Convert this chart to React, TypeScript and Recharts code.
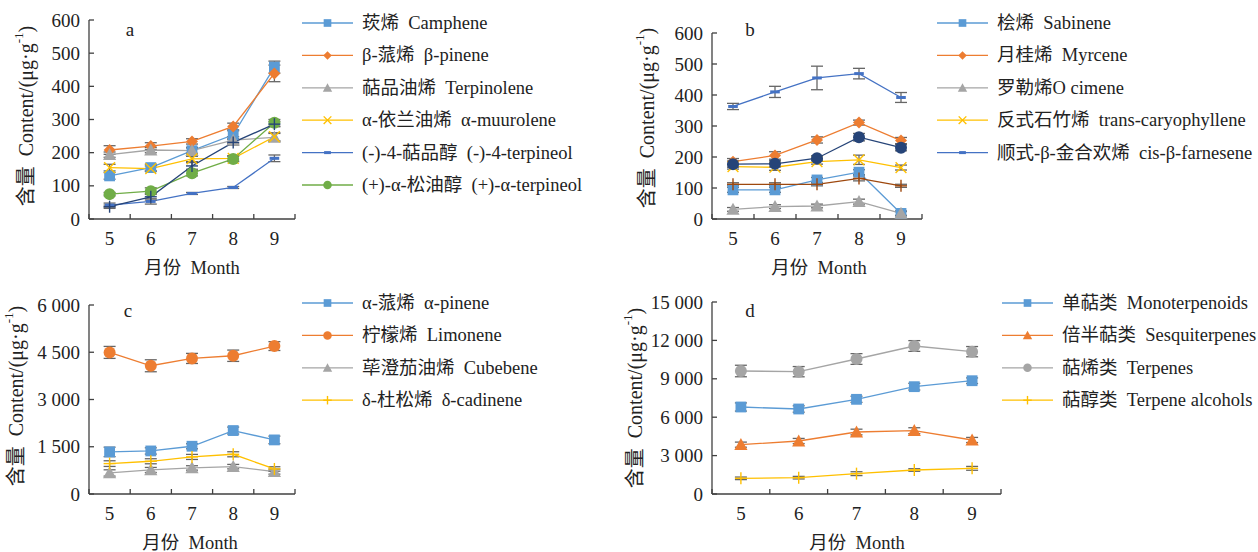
import { ErrorBar, Label, Line, LineChart, XAxis, YAxis } from "recharts";

type Marker = "square" | "diamond" | "triangle" | "cross" | "dash" | "circle" | "plus";

interface Series {
  key: string;
  label?: string;
  color: string;
  marker: Marker;
  values: number[];
  errors: number[];
}

const FONT = "'Liberation Serif', 'Noto Sans CJK SC', serif";
const AXIS = "#404040";
const ERR = "#666666";
const TEXT = "#222";
const TICK_FS = 19;
const Y_AXIS_W = 60;
const X_AXIS_H = 40;

const months = [5, 6, 7, 8, 9];
const monthTicks = [4.5, 5, 5.5, 6, 6.5, 7, 7.5, 8, 8.5, 9, 9.5];

// panel a
const camphene = [130, 155, 206, 254, 458];
const campheneErr = [10, 10, 10, 12, 18];
const betaPinene = [208, 220, 234, 279, 439];
const betaPineneErr = [13, 10, 8, 10, 25];
const terpinolene = [194, 208, 206, 238, 246];
const terpinoleneErr = [8, 8, 8, 10, 12];
const alphaMuurolene = [155, 152, 181, 183, 248];
const alphaMuuroleneErr = [10, 8, 8, 8, 12];
const terpineol4 = [42, 53, 77, 95, 183];
const terpineol4Err = [6, 8, 3, 3, 10];
const alphaTerpineol = [75, 84, 138, 181, 290];
const alphaTerpineolErr = [5, 10, 8, 8, 10];
const extraA = [37, 67, 160, 231, 286];
const extraAErr = [5, 10, 10, 8, 8];

// panel b
const sabinene = [94, 94, 126, 151, 18];
const sabineneErr = [8, 8, 8, 8, 8];
const myrcene = [185, 205, 255, 311, 253];
const myrceneErr = [10, 12, 10, 8, 10];
const oCimene = [31, 40, 42, 56, 18];
const oCimeneErr = [6, 6, 6, 8, 6];
const transCaryophyllene = [169, 167, 185, 191, 166];
const transCaryophylleneErr = [8, 10, 8, 15, 8];
const cisFarnesene = [363, 410, 455, 469, 392];
const cisFarneseneErr = [10, 18, 38, 17, 16];
const extraB1 = [177, 178, 196, 264, 230];
const extraB1Err = [10, 10, 8, 12, 10];
const extraB2 = [112, 112, 112, 131, 107];
const extraB2Err = [5, 5, 5, 8, 5];

// panel c
const alphaPinene = [1336, 1367, 1516, 2014, 1717];
const alphaPineneErr = [150, 100, 80, 110, 120];
const limonene = [4495, 4071, 4304, 4389, 4696];
const limoneneErr = [190, 190, 160, 180, 140];
const cubebene = [668, 763, 827, 869, 710];
const cubebeneErr = [100, 80, 70, 70, 80];
const deltaCadinene = [965, 1039, 1177, 1261, 795];
const deltaCadineneErr = [90, 80, 80, 80, 70];

// panel d
const monoterpenoids = [6797, 6641, 7396, 8385, 8850];
const monoterpenoidsErr = [320, 250, 240, 260, 220];
const sesquiterpenes = [3854, 4141, 4844, 4947, 4220];
const sesquiterpenesErr = [200, 200, 220, 230, 200];
const terpenes = [9609, 9557, 10547, 11563, 11120];
const terpenesErr = [450, 400, 420, 420, 400];
const terpeneAlcohols = [1224, 1276, 1589, 1875, 2005];
const terpeneAlcoholsErr = [100, 100, 150, 100, 150];

const seriesA: Series[] = [
  { key: "camphene", label: "莰烯  Camphene", color: "#5B9BD5", marker: "square", values: camphene, errors: campheneErr },
  { key: "betaPinene", label: "β-蒎烯  β-pinene", color: "#ED7D31", marker: "diamond", values: betaPinene, errors: betaPineneErr },
  { key: "terpinolene", label: "萜品油烯  Terpinolene", color: "#A5A5A5", marker: "triangle", values: terpinolene, errors: terpinoleneErr },
  { key: "muurolene", label: "α-依兰油烯  α-muurolene", color: "#FFC000", marker: "cross", values: alphaMuurolene, errors: alphaMuuroleneErr },
  { key: "terpineol4", label: "(-)-4-萜品醇  (-)-4-terpineol", color: "#4472C4", marker: "dash", values: terpineol4, errors: terpineol4Err },
  { key: "alphaTerpineol", label: "(+)-α-松油醇  (+)-α-terpineol", color: "#70AD47", marker: "circle", values: alphaTerpineol, errors: alphaTerpineolErr },
  { key: "extraA", color: "#264478", marker: "plus", values: extraA, errors: extraAErr },
];

const seriesB: Series[] = [
  { key: "sabinene", label: "桧烯  Sabinene", color: "#5B9BD5", marker: "square", values: sabinene, errors: sabineneErr },
  { key: "myrcene", label: "月桂烯  Myrcene", color: "#ED7D31", marker: "diamond", values: myrcene, errors: myrceneErr },
  { key: "oCimene", label: "罗勒烯O cimene", color: "#A5A5A5", marker: "triangle", values: oCimene, errors: oCimeneErr },
  { key: "caryophyllene", label: "反式石竹烯  trans-caryophyllene", color: "#FFC000", marker: "cross", values: transCaryophyllene, errors: transCaryophylleneErr },
  { key: "farnesene", label: "顺式-β-金合欢烯  cis-β-farnesene", color: "#4472C4", marker: "dash", values: cisFarnesene, errors: cisFarneseneErr },
  { key: "extraB1", color: "#264478", marker: "circle", values: extraB1, errors: extraB1Err },
  { key: "extraB2", color: "#9E480E", marker: "plus", values: extraB2, errors: extraB2Err },
];

const seriesC: Series[] = [
  { key: "alphaPinene", label: "α-蒎烯  α-pinene", color: "#5B9BD5", marker: "square", values: alphaPinene, errors: alphaPineneErr },
  { key: "limonene", label: "柠檬烯  Limonene", color: "#ED7D31", marker: "circle", values: limonene, errors: limoneneErr },
  { key: "cubebene", label: "荜澄茄油烯  Cubebene", color: "#A5A5A5", marker: "triangle", values: cubebene, errors: cubebeneErr },
  { key: "cadinene", label: "δ-杜松烯  δ-cadinene", color: "#FFC000", marker: "plus", values: deltaCadinene, errors: deltaCadineneErr },
];

const seriesD: Series[] = [
  { key: "mono", label: "单萜类  Monoterpenoids", color: "#5B9BD5", marker: "square", values: monoterpenoids, errors: monoterpenoidsErr },
  { key: "sesqui", label: "倍半萜类  Sesquiterpenes", color: "#ED7D31", marker: "triangle", values: sesquiterpenes, errors: sesquiterpenesErr },
  { key: "terpenes", label: "萜烯类  Terpenes", color: "#A5A5A5", marker: "circle", values: terpenes, errors: terpenesErr },
  { key: "alcohols", label: "萜醇类  Terpene alcohols", color: "#FFC000", marker: "plus", values: terpeneAlcohols, errors: terpeneAlcoholsErr },
];

function buildRows(series: Series[]) {
  return months.map((m, i) => {
    const row: Record<string, number> = { month: m };
    series.forEach((s) => {
      row[s.key] = s.values[i];
      row[s.key + "Err"] = s.errors[i];
    });
    return row;
  });
}

function drawMarker(type: Marker, cx: number, cy: number, color: string, k: number = 1) {
  switch (type) {
    case "square":
      return <rect x={cx - 4.5 * k} y={cy - 4.5 * k} width={9 * k} height={9 * k} fill={color} />;
    case "diamond":
      return (
        <polygon
          points={`${cx},${cy - 5 * k} ${cx + 5 * k},${cy} ${cx},${cy + 5 * k} ${cx - 5 * k},${cy}`}
          fill={color}
        />
      );
    case "triangle":
      return (
        <polygon
          points={`${cx},${cy - 5.5 * k} ${cx + 5.5 * k},${cy + 4.5 * k} ${cx - 5.5 * k},${cy + 4.5 * k}`}
          fill={color}
        />
      );
    case "circle":
      return <circle cx={cx} cy={cy} r={5 * k} fill={color} />;
    case "cross":
      return (
        <g stroke={color} strokeWidth={1.4}>
          <line x1={cx - 4.5 * k} y1={cy - 4.5 * k} x2={cx + 4.5 * k} y2={cy + 4.5 * k} />
          <line x1={cx - 4.5 * k} y1={cy + 4.5 * k} x2={cx + 4.5 * k} y2={cy - 4.5 * k} />
        </g>
      );
    case "plus":
      return (
        <g stroke={color} strokeWidth={1.4}>
          <line x1={cx - 5 * k} y1={cy} x2={cx + 5 * k} y2={cy} />
          <line x1={cx} y1={cy - 5 * k} x2={cx} y2={cy + 5 * k} />
        </g>
      );
    case "dash":
    default:
      return <rect x={cx - 4 * k} y={cy - 1.5} width={8 * k} height={3} fill={color} />;
  }
}

const XTick = (props: any) => {
  const { x, y, payload } = props;
  if (payload.value % 1 !== 0) {
    return <line x1={x} y1={y} x2={x} y2={y - 5} stroke={AXIS} strokeWidth={1.3} />;
  }
  return (
    <text x={x} y={y + 19} textAnchor="middle" dominantBaseline="central" fontFamily={FONT} fontSize={TICK_FS} fill={TEXT}>
      {payload.value}
    </text>
  );
};

const YTick = (props: any) => {
  const { x, y, payload, fmt } = props;
  return (
    <g>
      <line x1={x} y1={y} x2={x + 5} y2={y} stroke={AXIS} strokeWidth={1.3} />
      <text x={x - 9} y={y} textAnchor="end" dominantBaseline="central" fontFamily={FONT} fontSize={TICK_FS} fill={TEXT}>
        {fmt(payload.value)}
      </text>
    </g>
  );
};

const spaced = (v: number) => (v >= 1000 ? `${Math.floor(v / 1000)} ${String(v % 1000).padStart(3, "0")}` : String(v));

interface PanelProps {
  series: Series[];
  left: number;
  top: number;
  width: number;
  height: number;
  plot: { top: number; right: number; bottom: number; left: number };
  yMax: number;
  yTicks: number[];
  letter: string;
  yTitle: [number, number];
  xTitle: [number, number];
  letterPos: [number, number];
}

function Panel(p: PanelProps) {
  const rows = buildRows(p.series);
  const margin = {
    top: p.plot.top,
    right: p.plot.right,
    bottom: p.plot.bottom - X_AXIS_H,
    left: p.plot.left - Y_AXIS_W,
  };
  return (
    <div style={{ position: "absolute", left: p.left, top: p.top }}>
      <LineChart width={p.width} height={p.height} data={rows} margin={margin}>
        <XAxis
          dataKey="month"
          type="number"
          domain={[4.5, 9.5]}
          ticks={monthTicks}
          interval={0}
          height={X_AXIS_H}
          tickSize={0}
          tickMargin={0}
          tickLine={false}
          axisLine={{ stroke: AXIS, strokeWidth: 1.3 }}
          tick={(t: any) => <XTick {...t} />}
        >
          <Label
            content={() => (
              <text
                x={p.xTitle[0]}
                y={p.xTitle[1]}
                textAnchor="middle"
                dominantBaseline="central"
                fontFamily={FONT}
                fontSize={18.5}
                fill={TEXT}
                style={{ whiteSpace: "pre" }}
              >
                月份  Month
              </text>
            )}
          />
        </XAxis>
        <YAxis
          type="number"
          domain={[0, p.yMax]}
          ticks={p.yTicks}
          interval={0}
          width={Y_AXIS_W}
          tickSize={0}
          tickMargin={0}
          tickLine={false}
          axisLine={{ stroke: AXIS, strokeWidth: 1.3 }}
          tick={(t: any) => <YTick {...t} fmt={spaced} />}
        >
          <Label
            content={() => (
              <g>
                <text
                  x={p.yTitle[0]}
                  y={p.yTitle[1]}
                  transform={`rotate(-90, ${p.yTitle[0]}, ${p.yTitle[1]})`}
                  textAnchor="middle"
                  dominantBaseline="central"
                  fontFamily={FONT}
                  fontSize={20}
                  fill={TEXT}
                  style={{ whiteSpace: "pre" }}
                >
                  含量  Content/(μg·g
                  <tspan fontSize={13} dy={-8}>
                    -1
                  </tspan>
                  <tspan dy={8}>)</tspan>
                </text>
                <text
                  x={p.letterPos[0]}
                  y={p.letterPos[1]}
                  textAnchor="middle"
                  dominantBaseline="central"
                  fontFamily={FONT}
                  fontSize={19}
                  fill={TEXT}
                >
                  {p.letter}
                </text>
              </g>
            )}
          />
        </YAxis>
        {p.series.map((s) => (
          <Line
            key={s.key}
            dataKey={s.key}
            stroke={s.color}
            strokeWidth={1.3}
            isAnimationActive={false}
            dot={(d: any) => <g key={`${s.key}-${d.index}`}>{drawMarker(s.marker, d.cx, d.cy, s.color, 1.2)}</g>}
            activeDot={false}
          >
            <ErrorBar dataKey={s.key + "Err"} width={6} stroke={ERR} strokeWidth={1.3} />
          </Line>
        ))}
      </LineChart>
    </div>
  );
}

function Legend({ series, x, y }: { series: Series[]; x: number; y: number }) {
  return (
    <g>
      {series
        .filter((s) => s.label)
        .map((s, i) => {
          const cy = y + i * 32.4;
          return (
            <g key={s.key}>
              <line x1={x} y1={cy} x2={x + 51} y2={cy} stroke={s.color} strokeWidth={1.3} />
              {drawMarker(s.marker, x + 25.5, cy, s.color, 0.85)}
              <text
                x={x + 60}
                y={cy}
                dominantBaseline="central"
                fontFamily={FONT}
                fontSize={18.5}
                fill={TEXT}
                style={{ whiteSpace: "pre" }}
              >
                {s.label}
              </text>
            </g>
          );
        })}
    </g>
  );
}

export default function App() {
  return (
    <div style={{ position: "absolute", left: 0, top: 0, width: 1258, height: 552, background: "#fff", overflow: "hidden" }}>
      <Panel
        series={seriesA}
        left={0}
        top={0}
        width={300}
        height={280}
        plot={{ top: 20, right: 5, bottom: 61, left: 89 }}
        yMax={600}
        yTicks={[0, 100, 200, 300, 400, 500, 600]}
        letter="a"
        yTitle={[26, 116]}
        xTitle={[192, 268]}
        letterPos={[130, 29]}
      />
      <Panel
        series={seriesB}
        left={620}
        top={0}
        width={310}
        height={280}
        plot={{ top: 33, right: 8, bottom: 61, left: 92 }}
        yMax={600}
        yTicks={[0, 100, 200, 300, 400, 500, 600]}
        letter="b"
        yTitle={[27, 118]}
        xTitle={[199, 268]}
        letterPos={[130, 29]}
      />
      <Panel
        series={seriesC}
        left={0}
        top={280}
        width={300}
        height={272}
        plot={{ top: 25, right: 5, bottom: 58, left: 89 }}
        yMax={6000}
        yTicks={[0, 1500, 3000, 4500, 6000]}
        letter="c"
        yTitle={[16, 116]}
        xTitle={[190, 263]}
        letterPos={[128, 30]}
      />
      <Panel
        series={seriesD}
        left={620}
        top={280}
        width={385}
        height={272}
        plot={{ top: 22, right: 4, bottom: 58, left: 92 }}
        yMax={15000}
        yTicks={[0, 3000, 6000, 9000, 12000, 15000]}
        letter="d"
        yTitle={[15, 118]}
        xTitle={[237, 263]}
        letterPos={[130, 30]}
      />
      <svg width={1258} height={552} style={{ position: "absolute", left: 0, top: 0, pointerEvents: "none" }}>
        <Legend series={seriesA} x={302} y={23} />
        <Legend series={seriesB} x={937} y={23} />
        <Legend series={seriesC} x={302} y={303} />
        <Legend series={seriesD} x={1002} y={303} />
      </svg>
    </div>
  );
}
